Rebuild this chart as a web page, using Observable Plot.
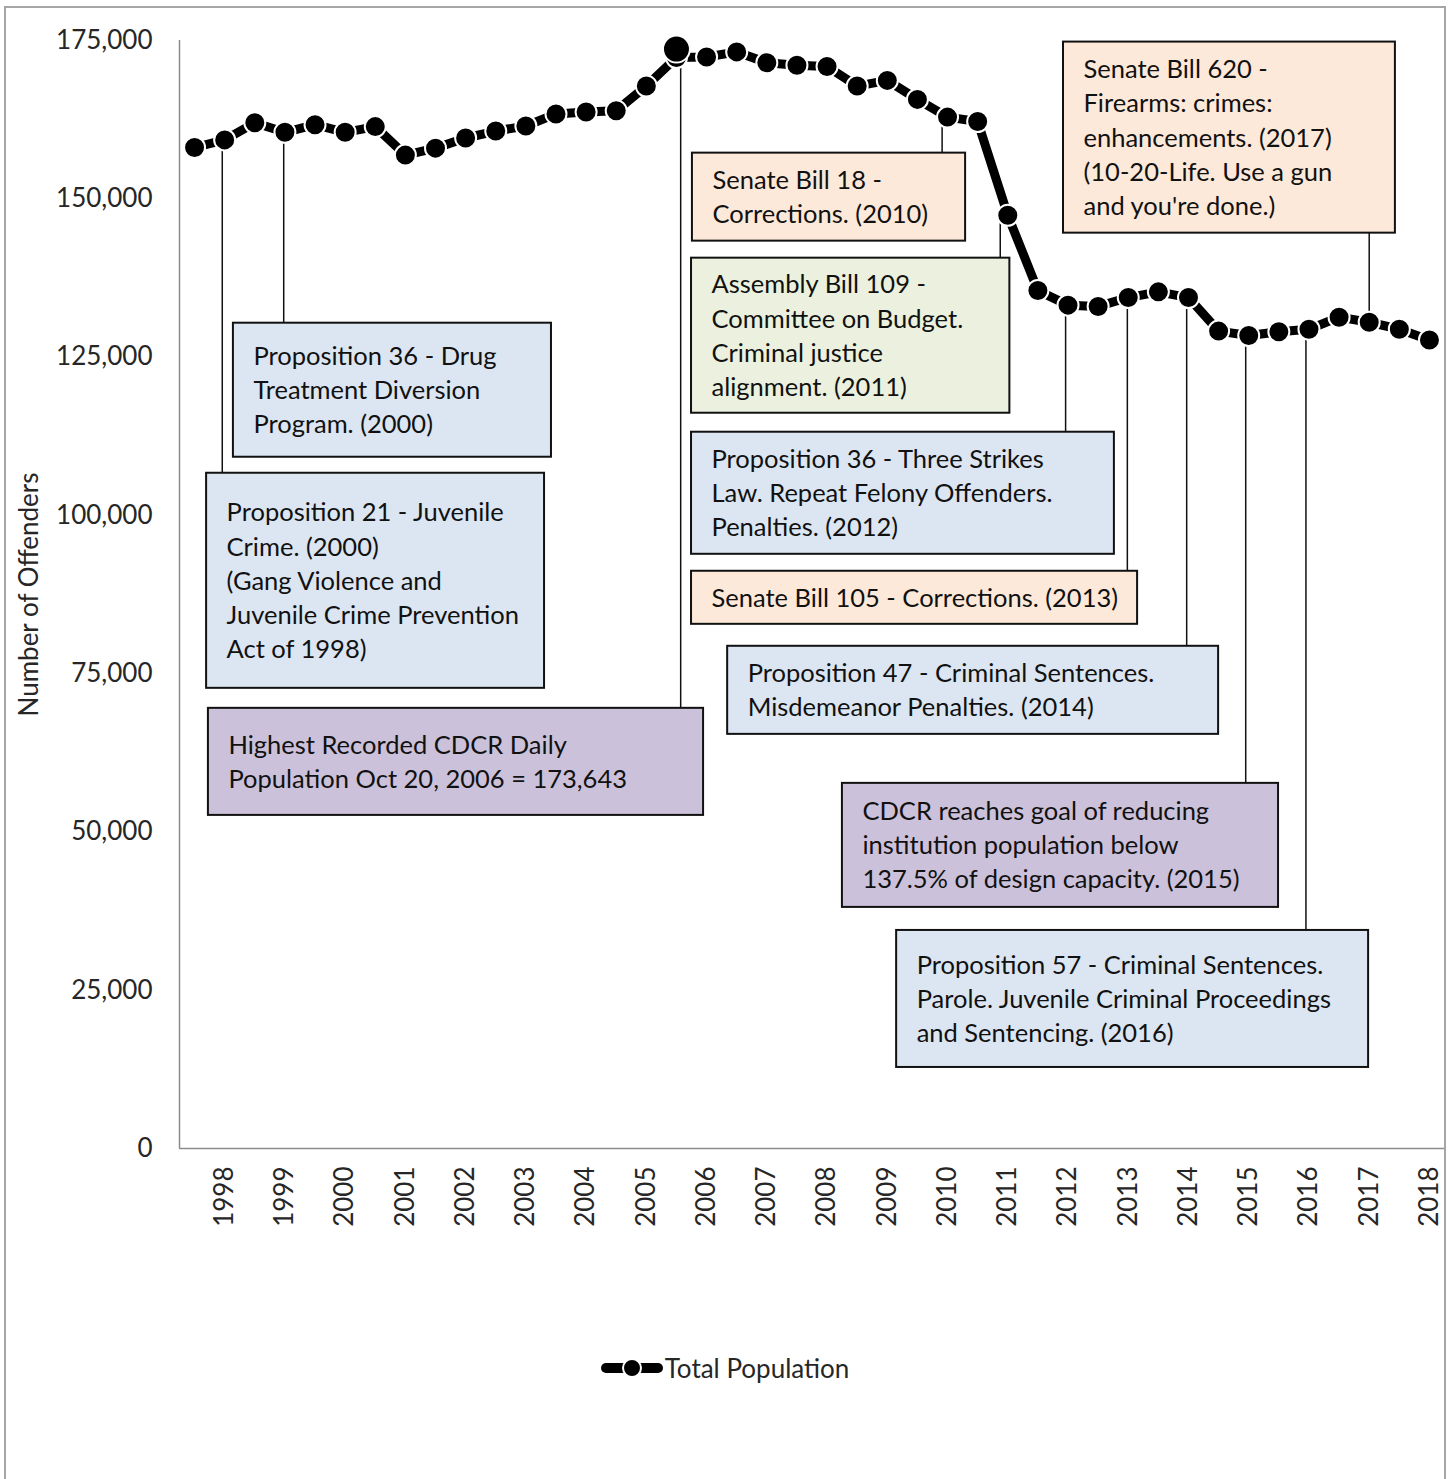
<!DOCTYPE html>
<html><head><meta charset="utf-8">
<script src="https://cdn.jsdelivr.net/npm/d3@7"></script>
<script src="https://cdn.jsdelivr.net/npm/@observablehq/plot@0.6"></script>
<style>
body{margin:0;background:#fff;font-family:Lato,"Open Sans",sans-serif;}
#frame{position:absolute;left:4px;top:6px;width:1442px;height:1520px;border:2px solid #a6a6a6;box-sizing:border-box;}
#chart{position:absolute;left:0;top:0;}
#legend{position:absolute;left:0;top:1352px;width:1450px;display:flex;justify-content:center;align-items:center;font-size:26px;color:#262626;}
#legend svg{margin-right:2px;}
</style></head><body>
<div id="frame"></div>
<div id="chart"></div>
<div id="legend"></div>
<script>
// Half-yearly total CDCR population (index 0..41)
const population = [158100, 159300, 162000, 160500, 161700, 160500, 161400, 156900, 158000, 159600,
  160700, 161500, 163400, 163700, 163900, 167800, 172300, 172400, 173200, 171500,
  171100, 170900, 167800, 168700, 165700, 162900, 162200, 147400, 135500, 133200,
  133000, 134400, 135300, 134400, 129100, 128400, 129000, 129400, 131300, 130500,
  129400, 127700];
const yearLabels = [1998,1999,2000,2001,2002,2003,2004,2005,2006,2007,2008,2009,2010,2011,2012,2013,2014,2015,2016,2017,2018];
const yTicks = [0, 25000, 50000, 75000, 100000, 125000, 150000, 175000];
const peak = {index: 16, value: 173643};
const seriesName = "Total Population";
const yTitle = "Number of Offenders";

const boxColors = {blue: "#dce6f2", peach: "#fde9d9", green: "#ebf1de", purple: "#ccc1da"};
const annotations = [
 {text: "Proposition 36 - Drug\nTreatment Diversion\nProgram. (2000)", kind: "blue", anchor: 3, lineX: 2.96, x1: 1.29, x2: 11.85, top: 130350, bottom: 109180},
 {text: "Proposition 21 - Juvenile\nCrime. (2000)\n(Gang Violence and\nJuvenile Crime Prevention\nAct of 1998)", kind: "blue", anchor: 1, lineX: 0.92, x1: 0.40, x2: 11.62, top: 106650, bottom: 72680},
 {text: "Highest Recorded CDCR Daily\nPopulation Oct 20, 2006 = 173,643", kind: "purple", anchor: "peak", lineX: 16.14, x1: 0.46, x2: 16.90, top: 69520, bottom: 52610},
 {text: "Senate Bill 18 -\nCorrections. (2010)", kind: "peach", anchor: 25, lineX: 24.82, x1: 16.53, x2: 25.60, top: 157210, bottom: 143310},
 {text: "Assembly Bill 109 -\nCommittee on Budget.\nCriminal justice\nalignment. (2011)", kind: "green", anchor: 27, lineX: 26.75, x1: 16.50, x2: 27.07, top: 140620, bottom: 116130},
 {text: "Proposition 36 - Three Strikes\nLaw. Repeat Felony Offenders.\nPenalties. (2012)", kind: "blue", anchor: 29, lineX: 28.92, x1: 16.50, x2: 30.54, top: 113130, bottom: 93850},
 {text: "Senate Bill 105 - Corrections. (2013)", kind: "peach", anchor: 31, lineX: 30.97, x1: 16.50, x2: 31.31, top: 91170, bottom: 82790},
 {text: "Proposition 47 - Criminal Sentences.\nMisdemeanor Penalties. (2014)", kind: "blue", anchor: 33, lineX: 32.94, x1: 17.70, x2: 34.00, top: 79320, bottom: 65410},
 {text: "CDCR reaches goal of reducing\ninstitution population below\n137.5% of design capacity. (2015)", kind: "purple", anchor: 35, lineX: 34.9, x1: 21.51, x2: 35.99, top: 57670, bottom: 38080},
 {text: "Proposition 57 - Criminal Sentences.\nParole. Juvenile Criminal Proceedings\nand Sentencing. (2016)", kind: "blue", anchor: 37, lineX: 36.9, x1: 23.31, x2: 38.98, top: 34440, bottom: 12800},
 {text: "Senate Bill 620 -\nFirearms: crimes:\nenhancements. (2017)\n(10-20-Life. Use a gun\nand you're done.)", kind: "peach", anchor: 39, lineX: 39.0, x1: 28.85, x2: 39.87, top: 174750, bottom: 144570}
];

const series = population.map((v, i) => ({i, v}));
const leaders = annotations.map(a => {
  const pv = a.anchor === "peak" ? peak.value : population[a.anchor];
  return {x: a.lineX, y1: pv, y2: a.top > pv ? a.bottom : a.top};
});
const xTicks = yearLabels.map((y, k) => 2 * k + 1);

const chart = Plot.plot({
  width: 1450, height: 1250,
  marginLeft: 179, marginRight: 6, marginTop: 40, marginBottom: 102,
  style: {fontFamily: "Lato, 'Open Sans', sans-serif", fontSize: "26px", color: "#262626", background: "transparent", overflow: "visible"},
  x: {type: "linear", domain: [-0.5, population.length - 0.5]},
  y: {domain: [0, 175000]},
  marks: [
    Plot.axisY({ticks: yTicks, tickFormat: d3.format(","), tickSize: 0, tickPadding: 27, label: null, fontSize: 26}),
    Plot.axisX({ticks: xTicks, tickFormat: i => String(yearLabels[(i - 1) / 2]), tickSize: 0, tickPadding: 18, tickRotate: -90, label: null, fontSize: 26}),
    Plot.ruleX([-0.5], {y1: 0, y2: 175000, stroke: "#8c8c8c", strokeWidth: 1.5}),
    Plot.ruleY([0], {stroke: "#8c8c8c", strokeWidth: 1.5}),
    Plot.text([yTitle], {frameAnchor: "left", dx: -150, rotate: -90, textAnchor: "middle", fontSize: 26, fill: "#262626"}),
    Plot.ruleX(leaders, {x: "x", y1: "y1", y2: "y2", stroke: "#111", strokeWidth: 1.5}),
    Plot.rect(annotations, {x1: "x1", x2: "x2", y1: "bottom", y2: "top", fill: d => boxColors[d.kind], stroke: "#111", strokeWidth: 2}),
    Plot.text(annotations, {x: "x1", y: d => (d.top + d.bottom) / 2, text: "text", dx: 20, dy: -2, textAnchor: "start", lineAnchor: "middle", lineHeight: 1.34, fontSize: 25.5, fill: "#111"}),
    Plot.line(series, {x: "i", y: "v", stroke: "#000", strokeWidth: 9}),
    Plot.dot(series, {x: "i", y: "v", r: 10.5, fill: "#000", stroke: "#fff", strokeWidth: 2}),
    Plot.dot([peak], {x: "index", y: "value", r: 13.5, fill: "#000", stroke: "#fff", strokeWidth: 2})
  ]
});
document.getElementById("chart").appendChild(chart);

const legend = document.getElementById("legend");
legend.innerHTML = `<svg width="62" height="24"><line x1="5" x2="57" y1="12" y2="12" stroke="#000" stroke-width="10" stroke-linecap="round"/><circle cx="31" cy="12" r="9" fill="#000" stroke="#fff" stroke-width="2"/></svg><span>${seriesName}</span>`;
</script>
</body></html>
